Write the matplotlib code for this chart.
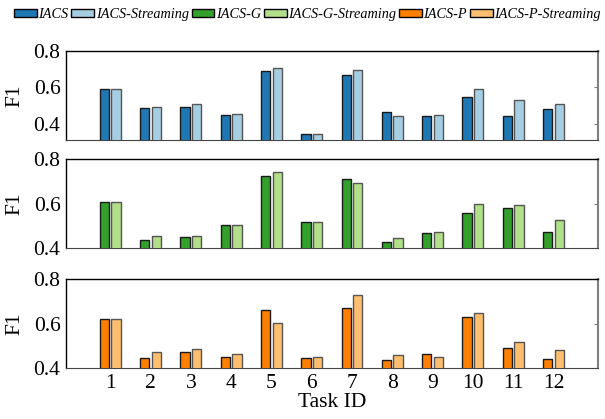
import numpy as np
import matplotlib
matplotlib.use('Agg')
import matplotlib.pyplot as plt
from matplotlib.patches import Patch

plt.rcParams['font.family'] = ['Liberation Serif', 'DejaVu Serif']

tasks = np.arange(1, 13)
task_labels = [str(t) for t in tasks]

iacs = [0.589, 0.484, 0.490, 0.447, 0.688, 0.345, 0.668, 0.466, 0.442, 0.547, 0.440, 0.480]
iacs_stream = [0.589, 0.493, 0.506, 0.455, 0.705, 0.345, 0.697, 0.444, 0.446, 0.591, 0.532, 0.510]
iacs_g = [0.607, 0.440, 0.451, 0.506, 0.724, 0.517, 0.710, 0.428, 0.470, 0.559, 0.580, 0.475]
iacs_g_stream = [0.607, 0.455, 0.457, 0.503, 0.742, 0.520, 0.692, 0.449, 0.476, 0.600, 0.596, 0.526]
iacs_p = [0.622, 0.445, 0.472, 0.449, 0.661, 0.445, 0.671, 0.439, 0.463, 0.631, 0.491, 0.442]
iacs_p_stream = [0.622, 0.473, 0.485, 0.464, 0.602, 0.449, 0.728, 0.460, 0.449, 0.650, 0.518, 0.482]

names = ['IACS', 'IACS-Streaming', 'IACS-G', 'IACS-G-Streaming', 'IACS-P', 'IACS-P-Streaming']
colors = ['#1f78b4', '#a6cee3', '#33a02c', '#b2df8a', '#ff7f00', '#fdbf6f']

panels = [(iacs, iacs_stream, 0, 0.31), (iacs_g, iacs_g_stream, 2, 0.4), (iacs_p, iacs_p_stream, 4, 0.4)]
boxes = [[0.109, 0.666, 0.879, 0.212], [0.109, 0.407, 0.879, 0.213], [0.109, 0.121, 0.879, 0.212]]

fig = plt.figure(figsize=(6.05, 4.19), dpi=100)
w = 0.23
off = 0.144
for i, (a, b, ci, ylo) in enumerate(panels):
    ax = fig.add_axes(boxes[i])
    ax.bar(tasks - off, a, w, color=colors[ci], edgecolor='#1a1a1a', linewidth=1.0, zorder=3)
    ax.bar(tasks + off, b, w, color=colors[ci + 1], edgecolor='#555555', linewidth=1.0, zorder=3)
    ax.set_ylim(ylo, 0.8)
    ax.set_xlim(-0.1, 13.1)
    ax.set_yticks([0.4, 0.6, 0.8])
    ax.set_yticklabels(['0.4', '0.6', '0.8'])
    ax.tick_params(axis='y', left=False, right=True, direction='in', length=3,
                   color='gray', labelsize=15.5, pad=4)
    ax.set_ylabel('F1', fontsize=15.5)
    ax.yaxis.set_label_coords(-0.078, 0.5)
    ax.spines['right'].set_color('gray')
    ax.spines['right'].set_linewidth(1.5)
    ax.spines['bottom'].set_color('#444444')
    ax.spines['top'].set_linewidth(1.0)
    ax.spines['left'].set_linewidth(1.0)
    if i < 2:
        ax.set_xticks([])
    else:
        ax.set_xticks(tasks)
        ax.set_xticklabels(task_labels)
        ax.tick_params(axis='x', length=0, labelsize=15.5, pad=4)
        ax.set_xlabel('Task ID', fontsize=15.5, labelpad=0)

handles = [Patch(facecolor=c, edgecolor='k', linewidth=1.0) for c in colors]
fig.legend(handles, names, loc='upper center', bbox_to_anchor=(0.508, 1.012), ncol=6,
           frameon=False, handlelength=1.6, handleheight=0.5, handletextpad=0.1,
           columnspacing=0.2, prop={'style': 'italic', 'size': 10.3})

fig.savefig('out.png', dpi=100)
